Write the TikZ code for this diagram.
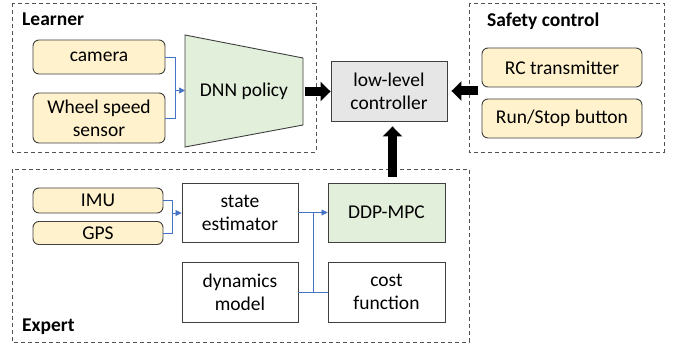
\documentclass[tikz,border=0pt]{standalone}
\usepackage{fontspec}
\setmainfont{Carlito}
\usetikzlibrary{arrows.meta,calc}
\definecolor{yel}{HTML}{FFF2CC}
\definecolor{grn}{HTML}{E2EFDA}
\definecolor{gry}{HTML}{E6E6E6}
\definecolor{edge}{HTML}{3F3F3F}
\definecolor{blu}{HTML}{4472C4}
\begin{document}
\begin{tikzpicture}[x=1pt,y=-1pt,
  every node/.style={font=\fontsize{19.5}{23}\selectfont, align=center, inner sep=0pt},
  inbox/.style={draw=edge, line width=0.9pt, fill=yel, rounded corners=6pt},
  plainbox/.style={draw=edge, line width=0.9pt, fill=white},
  group/.style={draw=edge!90, line width=0.9pt, dash pattern=on 4pt off 3pt},
  title/.style={font=\fontsize{19.5}{23}\selectfont\bfseries, anchor=base west},
  bigarrow/.style={line width=9pt, -{Triangle[length=10pt,width=19pt]}},
  link/.style={draw=blu, line width=0.7pt},
  linkarrow/.style={link, -{Triangle[length=6pt,width=6pt]}}
]
\useasboundingbox (0,0) rectangle (678,347);
% group frames
\draw[group] (12,3) rectangle (316,152);
\draw[group] (469,3) rectangle (664,152);
\draw[group] (12,169) rectangle (469,342);
\node[title] (tl) at (22,26) {Learner};
\node[title] (ts) at (487,27) {Safety control};
\node[title] (te) at (22,332) {Expert};
% learner
\node[inbox, minimum width=132pt, minimum height=34pt] (cam) at (99,57) {camera};
\node[inbox, minimum width=132pt, minimum height=50pt] (wheel) at (99,118) {Wheel speed\\sensor};
\coordinate (t1) at (185,35);
\coordinate (t2) at (303,58);
\coordinate (t3) at (303,125);
\coordinate (t4) at (185,147);
\draw[draw=edge, line width=0.9pt, fill=grn] (t1) -- (t2) -- (t3) -- (t4) -- cycle;
\node (dnn) at (244,91) {DNN policy};
\coordinate (dnnin) at (185,90.5);
\coordinate (dnnout) at (305,91.5);
% controller
\node[draw=edge, line width=0.9pt, fill=gry, minimum width=116pt, minimum height=60pt] (ctrl) at (389,91) {low-level\\controller};
% safety
\node[inbox, minimum width=160pt, minimum height=39pt] (rc) at (562,67.5) {RC transmitter};
\node[inbox, minimum width=160pt, minimum height=39pt] (rs) at (562,118.5) {Run/Stop button};
\coordinate (safeout) at (478,91);
% expert
\node[inbox, minimum width=130pt, minimum height=25pt] (imu) at (98,200.5) {IMU};
\node[inbox, minimum width=130pt, minimum height=23pt] (gps) at (98,233) {GPS};
\node[plainbox, minimum width=116pt, minimum height=59pt] (se) at (240,212.5) {state\\estimator};
\node[draw=edge, line width=0.9pt, fill=grn, minimum width=117pt, minimum height=59pt] (ddp) at (386.5,212.5) {DDP-MPC};
\node[plainbox, minimum width=116pt, minimum height=60pt] (dyn) at (240,292) {dynamics\\model};
\node[plainbox, minimum width=117pt, minimum height=60pt] (cost) at (386.5,292) {cost\\function};
\coordinate (expout) at (392.5,177);
% blue links
\draw[link] (cam.east) -| (175,90.5);
\draw[link] (wheel.east) -| (175,90.5);
\draw[linkarrow] (175,90.5) -- (dnnin);
\draw[link] (imu.east) -| (172,213);
\draw[link] (gps.east) -| (172,213);
\draw[linkarrow] (172,213) -- (se.west |- 0,213);
\draw[linkarrow] (se.east) -- (ddp.west);
\draw[link] (dyn.east) -- (cost.west);
\draw[link] (313,212.5) -- (313,292);
% black arrows
\draw[bigarrow] (dnnout) -- (ctrl.west |- dnnout);
\draw[bigarrow] (safeout) -- ($(ctrl.east)+(4,0)$);
\draw[bigarrow] (expout) -- ($(ctrl.south)+(3.5,5)$);
\end{tikzpicture}
\end{document}
